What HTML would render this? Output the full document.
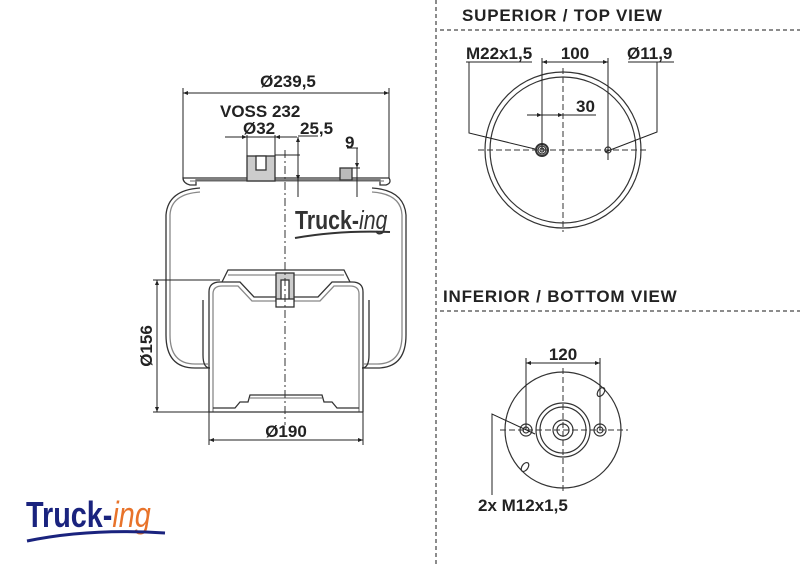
<!DOCTYPE html>
<html><head><meta charset="utf-8"><style>
html,body{margin:0;padding:0;background:#fff}
svg{display:block}
text{font-family:"Liberation Sans",sans-serif;font-weight:bold;fill:#222}
</style></head><body>
<svg width="800" height="565" viewBox="0 0 800 565" xmlns="http://www.w3.org/2000/svg">
<defs>
<marker id="a" viewBox="0 0 10 10" refX="10" refY="5" markerWidth="8" markerHeight="5" orient="auto-start-reverse"><path d="M0,1 L10,5 L0,9z" fill="#222"/></marker>
</defs>
<g stroke="#666" stroke-width="1.5" stroke-dasharray="4,3" fill="none">
<line x1="436" y1="0" x2="436" y2="565"/>
<line x1="440" y1="30" x2="800" y2="30"/>
<line x1="440" y1="311" x2="800" y2="311"/>
</g>
<text x="462" y="21" font-size="17" letter-spacing="0.8">SUPERIOR / TOP VIEW</text>
<text x="443" y="302" font-size="17" letter-spacing="0.8">INFERIOR / BOTTOM VIEW</text>

<!-- SIDE VIEW -->
<g fill="none" stroke="#333" stroke-width="1.3">
<path d="M183,178 Q183,183 190,185 L196,185 L196,180 L380,180 L380,185 L386,185 Q392,183 389,178 L183,178z"/>
<line x1="190" y1="181" x2="384" y2="181" stroke="#888"/>
<path d="M200,188 Q168,190 166,215 L166,335 Q166,368 195,368 L210,368"/>
<path d="M200,192 Q171,194 170,215 L170,335 Q170,364 195,364 L208,364" stroke="#888"/>
<path d="M372,188 Q404,190 406,215 L406,335 Q406,368 377,368 L362,368"/>
<path d="M372,192 Q401,194 402,215 L402,335 Q402,364 377,364 L364,364" stroke="#888"/>
<path d="M210,368 Q203,368 203,355 L203,300"/>
<path d="M362,368 Q369,368 369,355 L369,300"/>
<path d="M209,412 L209,292 Q209,282 220,282 L240,282 L254,297 L318,297 L332,282 L352,282 Q363,282 363,292 L363,412"/>
<path d="M213,412 L213,294 Q213,286 222,286 L238,286 L252,301 L320,301 L334,286 L350,286 Q359,286 359,294 L359,412" stroke="#888"/>
<path d="M222,282 L228,270 L344,270 L350,282"/>
<line x1="228" y1="275" x2="344" y2="275" stroke="#888"/>
<rect x="276" y="273" width="18" height="28" fill="#ccc"/>
<rect x="281" y="280" width="8" height="24" fill="#fff"/>
<rect x="276" y="299" width="18" height="8" fill="#fff"/>
<path d="M209,412 L363,412 M213,408 L235,408 L240,402 L248,402 L250,395 L322,395 L324,402 L332,402 L337,408 L359,408"/>
<line x1="250" y1="398" x2="322" y2="398" stroke="#888"/>
<rect x="247" y="156" width="28" height="25" fill="#ccc"/>
<rect x="256" y="156" width="10" height="14" fill="#fff"/>
<rect x="340" y="168" width="12" height="12" fill="#bbb"/>
<line x1="285" y1="150" x2="285" y2="425" stroke-width="1" stroke-dasharray="8,3,2,3"/>
</g>
<g stroke="#222" stroke-width="1" fill="none">
<line x1="183" y1="88" x2="183" y2="178"/><line x1="389" y1="88" x2="389" y2="178"/>
<line x1="183" y1="93" x2="389" y2="93" marker-start="url(#a)" marker-end="url(#a)"/>
<line x1="225" y1="137" x2="247" y2="137" marker-end="url(#a)"/>
<line x1="297" y1="137" x2="275" y2="137" marker-end="url(#a)"/>
<line x1="247" y1="137" x2="275" y2="137"/>
<line x1="247" y1="135" x2="247" y2="156"/><line x1="275" y1="135" x2="275" y2="156"/>
<line x1="298" y1="136" x2="318" y2="136"/>
<line x1="298" y1="137" x2="298" y2="155" marker-start="url(#a)"/>
<line x1="298" y1="155" x2="298" y2="197"/>
<line x1="298" y1="178" x2="298" y2="180" marker-end="url(#a)"/>
<line x1="275" y1="155" x2="300" y2="155"/>
<line x1="347" y1="148" x2="358" y2="148"/>
<line x1="357" y1="148" x2="357" y2="168" marker-end="url(#a)"/>
<line x1="357" y1="168" x2="357" y2="197"/>
<line x1="352" y1="168" x2="360" y2="168"/>
<line x1="153" y1="280" x2="220" y2="280"/><line x1="153" y1="412" x2="209" y2="412"/>
<line x1="157" y1="280" x2="157" y2="412" marker-start="url(#a)" marker-end="url(#a)"/>
<line x1="209" y1="412" x2="209" y2="445"/><line x1="363" y1="412" x2="363" y2="445"/>
<line x1="209" y1="440" x2="363" y2="440" marker-start="url(#a)" marker-end="url(#a)"/>
</g>
<text x="288" y="87" font-size="17" text-anchor="middle">Ø239,5</text>
<text x="220" y="117" font-size="17">VOSS 232</text>
<text x="243" y="134" font-size="17">Ø32</text>
<text x="300" y="134" font-size="17">25,5</text>
<text x="345" y="148" font-size="17">9</text>
<text x="286" y="437" font-size="17" text-anchor="middle">Ø190</text>
<text x="152" y="346" font-size="17" text-anchor="middle" transform="rotate(-90 152 346)">Ø156</text>
<g transform="translate(295,229) scale(0.82,1)">
<text x="0" y="0" font-size="26" style="fill:#333">Truck-<tspan font-style="italic" font-weight="normal">ing</tspan></text>
</g>
<path d="M295,238 Q340,230 390,232" stroke="#333" stroke-width="2" fill="none"/>

<!-- TOP VIEW -->
<g fill="none" stroke="#333" stroke-width="1.2">
<circle cx="563" cy="150" r="78"/><circle cx="563" cy="150" r="73"/>
<line x1="478" y1="150" x2="648" y2="150" stroke-width="1" stroke-dasharray="6,3"/>
<line x1="563" y1="68" x2="563" y2="232" stroke-width="1" stroke-dasharray="6,3"/>
<circle cx="542" cy="150" r="6" stroke-width="2"/><circle cx="542" cy="150" r="4"/><circle cx="542" cy="150" r="2"/>
<circle cx="608" cy="150" r="3"/>
</g>
<g stroke="#222" stroke-width="1" fill="none">
<line x1="542" y1="58" x2="542" y2="150"/><line x1="608" y1="58" x2="608" y2="160"/>
<line x1="542" y1="62" x2="608" y2="62" marker-start="url(#a)" marker-end="url(#a)"/>
<line x1="527" y1="115" x2="542" y2="115" marker-end="url(#a)"/>
<line x1="542" y1="115" x2="563" y2="115" marker-end="url(#a)"/>
<line x1="563" y1="115" x2="596" y2="115"/>
<line x1="466" y1="62" x2="532" y2="62"/>
<polyline points="469,62 469,133 535,149"/>
<line x1="628" y1="62" x2="674" y2="62"/>
<polyline points="657,62 657,132 605,152"/>
</g>
<text x="466" y="59" font-size="17">M22x1,5</text>
<text x="575" y="59" font-size="17" text-anchor="middle">100</text>
<text x="576" y="112" font-size="17">30</text>
<text x="627" y="59" font-size="17">Ø11,9</text>

<!-- BOTTOM VIEW -->
<g fill="none" stroke="#333" stroke-width="1.2">
<circle cx="563" cy="430" r="58"/>
<circle cx="563" cy="430" r="27"/><circle cx="563" cy="430" r="23"/>
<circle cx="563" cy="430" r="10"/><circle cx="563" cy="430" r="6"/>
<line x1="500" y1="430" x2="628" y2="430" stroke-width="1" stroke-dasharray="6,3"/>
<line x1="563" y1="368" x2="563" y2="492" stroke-width="1" stroke-dasharray="6,3"/>
<circle cx="526" cy="430" r="6"/><circle cx="526" cy="430" r="3"/>
<circle cx="600" cy="430" r="6"/><circle cx="600" cy="430" r="3"/>
<ellipse cx="601" cy="392" rx="3" ry="5" transform="rotate(35 601 392)"/>
<ellipse cx="525" cy="467" rx="3" ry="5" transform="rotate(35 525 467)"/>
</g>
<g stroke="#222" stroke-width="1" fill="none">
<line x1="526" y1="358" x2="526" y2="430"/><line x1="600" y1="358" x2="600" y2="430"/>
<line x1="526" y1="363" x2="600" y2="363" marker-start="url(#a)" marker-end="url(#a)"/>
<polyline points="492,495 492,414 535,434"/>
</g>
<text x="563" y="360" font-size="17" text-anchor="middle">120</text>
<text x="478" y="511" font-size="17">2x M12x1,5</text>

<!-- main logo -->
<g transform="translate(26,527) scale(0.8,1)">
<text x="0" y="0" font-size="36" style="fill:#1a237e">Truck-<tspan font-style="italic" font-weight="normal" style="fill:#e8732a">ing</tspan></text>
</g>
<path d="M27,541 Q90,528 165,533" stroke="#1a237e" stroke-width="3" fill="none"/>
</svg>
</body></html>
